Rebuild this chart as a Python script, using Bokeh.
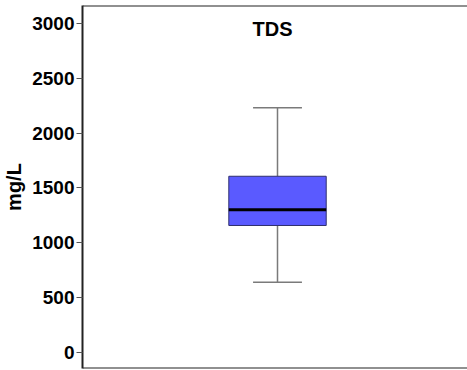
from bokeh.plotting import figure
from bokeh.models import Range1d, FixedTicker, Span, Label, ColumnDataSource
from bokeh.embed import file_html
from bokeh.resources import INLINE

# data
category = ["TDS"]
whisker_low = [641]
q1 = [1158]
median = [1301]
q3 = [1607]
whisker_high = [2231]
y_ticks = [0, 500, 1000, 1500, 2000, 2500, 3000]
y_label = "mg/L"

FONT = "Liberation Sans"
y_start, y_end = -146, 3164

p = figure(width=467, height=370, output_backend="svg", toolbar_location=None,
           x_range=Range1d(-0.5065, 0.4935), y_range=Range1d(y_start, y_end),
           min_border_left=82, min_border_top=5, min_border_bottom=2, min_border_right=0)
p.outline_line_color = None
p.grid.visible = False
p.xaxis.visible = False
p.background_fill_color = "white"

ax = p.yaxis[0]
ax.ticker = FixedTicker(ticks=y_ticks)
ax.minor_tick_line_color = None
ax.major_tick_in = 0
ax.major_tick_out = 6
ax.major_tick_line_color = "#555555"
ax.axis_line_color = "#222222"
ax.axis_line_width = 2
ax.major_label_text_font = FONT
ax.major_label_text_font_style = "bold"
ax.major_label_text_font_size = "19px"
ax.major_label_text_color = "black"
ax.major_label_standoff = 2
ax.axis_label = y_label
ax.axis_label_text_font = FONT
ax.axis_label_text_font_style = "bold"
ax.axis_label_text_font_size = "20px"
ax.axis_label_text_color = "black"
ax.axis_label_standoff = 4

for loc in (y_start, y_end):
    p.add_layout(Span(location=loc, dimension="width", line_color="#222222", line_width=2))

src = ColumnDataSource(dict(x=[0 for _ in category], lo=whisker_low, q1=q1, med=median,
                            q3=q3, hi=whisker_high))
p.segment(x0="x", y0="lo", x1="x", y1="q1", source=src, line_color="#7a7a7a", line_width=1.5)
p.segment(x0="x", y0="q3", x1="x", y1="hi", source=src, line_color="#7a7a7a", line_width=1.5)
cap = 0.127
p.segment(x0=[0 - cap / 2], y0=whisker_high, x1=[0 + cap / 2], y1=whisker_high,
          line_color="#7a7a7a", line_width=1.5)
p.segment(x0=[0 - cap / 2], y0=whisker_low, x1=[0 + cap / 2], y1=whisker_low,
          line_color="#7a7a7a", line_width=1.5)
p.vbar(x="x", width=0.253, bottom="q1", top="q3", source=src,
       fill_color="#5a5aff", line_color="#30306e", line_width=1)
p.segment(x0=[-0.1265], y0=median, x1=[0.1265], y1=median, line_color="black", line_width=3)

p.add_layout(Label(x=-0.013, y=2950, text=category[0], text_align="center",
                   text_baseline="middle", text_font=FONT, text_font_style="bold",
                   text_font_size="20px", text_color="black"))

open("out.html", "w").write(file_html(p, INLINE))
